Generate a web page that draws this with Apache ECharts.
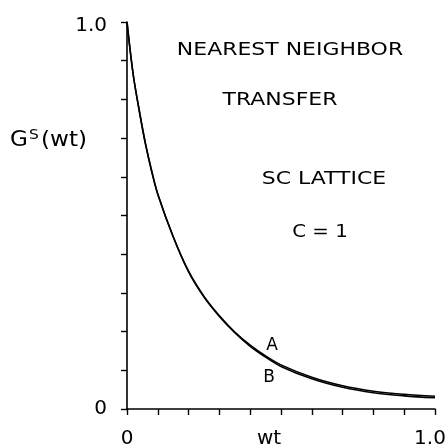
<!DOCTYPE html>
<html>
<head>
<meta charset="utf-8">
<script src="https://cdn.jsdelivr.net/npm/echarts@6/dist/echarts.min.js"></script>
<style>html,body{margin:0;padding:0;background:#fff}#c{width:448px;height:448px}</style>
</head>
<body>
<div id="c"></div>
<script>
// Data
var wt = [0, 0.02, 0.04, 0.06, 0.08, 0.10, 0.15, 0.20, 0.25, 0.30, 0.35, 0.40, 0.45, 0.50, 0.60, 0.70, 0.80, 0.90, 1.00];
var curveA = [1.0, 0.865, 0.77, 0.685, 0.615, 0.555, 0.445, 0.356, 0.291, 0.241, 0.199, 0.165, 0.137, 0.114, 0.082, 0.060, 0.046, 0.038, 0.033];
var curveB = [1.0, 0.865, 0.77, 0.685, 0.615, 0.555, 0.445, 0.354, 0.289, 0.239, 0.197, 0.162, 0.134, 0.110, 0.078, 0.056, 0.042, 0.034, 0.029];
var yTickLabels = {0: '0', 1: '1.0'};
var xTickLabels = {0: '0', 1: '1.0'};
var notes = ['NEAREST NEIGHBOR', 'TRANSFER', 'SC LATTICE', 'C = 1'];
var curveNames = ['A', 'B'];
var xName = 'wt';

var FONT = '"DejaVu Sans", sans-serif';
function pairs(xs, ys) { return xs.map(function (x, i) { return [x, ys[i]]; }); }
function fmtY(v) {
  var k = Math.round(v * 10) / 10;
  if (!yTickLabels.hasOwnProperty(k)) return '';
  return k === 1 ? '{t|' + yTickLabels[k] + '}' : yTickLabels[k];
}
function fmtX(v) {
  var k = Math.round(v * 10) / 10;
  if (!xTickLabels.hasOwnProperty(k)) return '';
  return k === 1 ? '{r|' + xTickLabels[k] + '}' : xTickLabels[k];
}

var chart = echarts.init(document.getElementById('c'), null, {renderer: 'canvas'});
var axisCommon = {
  type: 'value', min: 0, max: 1, interval: 0.1,
  splitLine: {show: false},
  axisLine: {show: true, lineStyle: {color: '#000', width: 1.6}},
  axisTick: {show: true, inside: false, length: 6, lineStyle: {color: '#000', width: 1.4}},
  axisLabel: {color: '#000', fontFamily: FONT, fontSize: 20, showMinLabel: true, showMaxLabel: true}
};
var option = {
  backgroundColor: '#fff',
  animation: false,
  grid: {left: 127, top: 22, right: 13, bottom: 39, containLabel: false, outerBoundsMode: 'none'},
  xAxis: Object.assign({}, axisCommon, {
    name: xName, nameLocation: 'middle', nameGap: 20, nameMoveOverlap: false,
    nameTextStyle: {color: '#000', fontFamily: FONT, fontSize: 20, padding: [0, 24, 0, 0]},
    axisLabel: Object.assign({}, axisCommon.axisLabel, {margin: 20, formatter: fmtX,
      rich: {r: {fontFamily: FONT, fontSize: 20, color: '#000', padding: [0, 10, 0, 0]}}})
  }),
  yAxis: Object.assign({}, axisCommon, {
    axisLabel: Object.assign({}, axisCommon.axisLabel, {margin: 20, formatter: fmtY,
      rich: {t: {fontFamily: FONT, fontSize: 20, color: '#000', padding: [7, 0, 0, 0]}}})
  }),
  series: [
    {name: curveNames[0], type: 'line', data: pairs(wt, curveA), showSymbol: false, smooth: 0.35,
     lineStyle: {color: '#000', width: 1.6}},
    {name: curveNames[1], type: 'line', data: pairs(wt, curveB), showSymbol: false, smooth: 0.35,
     lineStyle: {color: '#000', width: 1.6}}
  ],
  graphic: [
    {type: 'text', x: 10, y: 141, scaleX: 1.1, style: {
      text: '{g|G}{s|S}{g|(wt)}', textVerticalAlign: 'middle', fill: '#000',
      rich: {g: {fontFamily: FONT, fontSize: 21, fill: '#000'}, s: {fontFamily: FONT, fontSize: 14, fill: '#000', padding: [0, 2, 11, 1]}}
    }},
    {type: 'text', x: 290, y: 50, scaleX: 1.22, style: {text: notes[0], font: '18px ' + FONT, fill: '#000', textAlign: 'center', textVerticalAlign: 'middle'}},
    {type: 'text', x: 280, y: 100, scaleX: 1.22, style: {text: notes[1], font: '18px ' + FONT, fill: '#000', textAlign: 'center', textVerticalAlign: 'middle'}},
    {type: 'text', x: 324, y: 179, scaleX: 1.22, style: {text: notes[2], font: '18px ' + FONT, fill: '#000', textAlign: 'center', textVerticalAlign: 'middle'}},
    {type: 'text', x: 320, y: 232, scaleX: 1.1, style: {text: notes[3], font: '18px ' + FONT, fill: '#000', textAlign: 'center', textVerticalAlign: 'middle'}},
    {type: 'text', x: 272, y: 346, style: {text: curveNames[0], font: '17px ' + FONT, fill: '#000', textAlign: 'center', textVerticalAlign: 'middle'}},
    {type: 'text', x: 269, y: 378, style: {text: curveNames[1], font: '17px ' + FONT, fill: '#000', textAlign: 'center', textVerticalAlign: 'middle'}}
  ]
};
chart.setOption(option);
</script>
</body>
</html>
